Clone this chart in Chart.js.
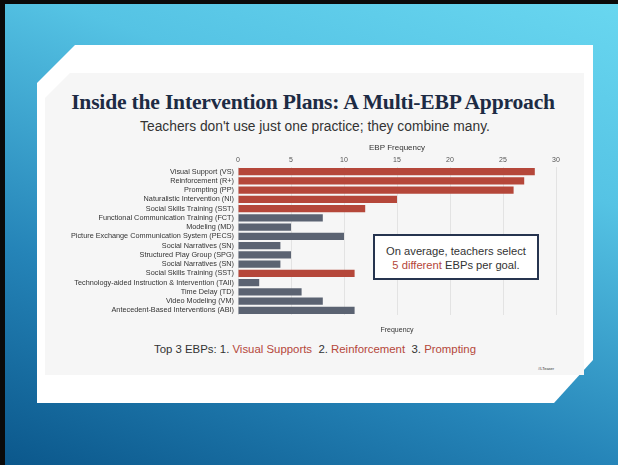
<!DOCTYPE html>
<html>
<head>
<meta charset="utf-8">
<script src="https://cdn.jsdelivr.net/npm/chart.js@4"></script>
<style>
  html,body{margin:0;padding:0;}
  body{width:618px;height:465px;overflow:hidden;position:relative;
    background:linear-gradient(200deg,#69d7f0 0%,#55c3e4 30%,#2584b8 68%,#0b578b 100%);}
  #frameT{position:absolute;left:0;top:0;width:618px;height:4px;background:#0a0a0a;}
  #frameL{position:absolute;left:0;top:0;width:5px;height:465px;background:#0a0a0a;}
  #card{position:absolute;left:37px;top:45px;width:556px;height:358px;background:#fff;
    clip-path:polygon(38px 0,556px 0,556px 315px,517px 358px,0 358px,0 38px);}
  #panel{position:absolute;left:45px;top:73px;width:539px;height:302px;background:#f6f6f6;
    clip-path:polygon(25px 0,539px 0,539px 302px,0 302px,0 25px);}
  .txt{position:absolute;white-space:nowrap;}
  #title{left:4px;width:618px;top:90px;text-align:center;font-family:"Liberation Serif",serif;
    font-weight:bold;font-size:21.6px;color:#1d2b44;letter-spacing:-0.2px;}
  #sub{left:6px;width:618px;top:119px;text-align:center;font-family:"Liberation Sans",Arial,sans-serif;
    font-size:13.8px;color:#333;}
  #chartWrap{position:absolute;left:45px;top:135px;width:540px;height:205px;}
  #note{position:absolute;left:373px;top:234px;width:162px;height:42px;border:2px solid #26344f;background:#fff;
    font-family:"Liberation Sans",Arial,sans-serif;font-size:11.2px;color:#333;text-align:center;line-height:14px;
    box-sizing:content-box;}
  .red{color:#b5473a;}
  #bottom{left:6px;width:618px;top:343px;text-align:center;font-family:"Liberation Sans",Arial,sans-serif;font-size:11.4px;color:#333;}
  #tag{left:538px;top:366px;font-family:"Liberation Sans",Arial,sans-serif;font-size:4px;color:#333;}
</style>
</head>
<body>
<div id="frameT"></div><div id="frameL"></div>
<div id="card"></div>
<div id="panel"></div>
<div class="txt" id="title">Inside the Intervention Plans: A Multi-EBP Approach</div>
<div class="txt" id="sub">Teachers don't use just one practice; they combine many.</div>
<div id="chartWrap"><canvas id="c" width="540" height="205"></canvas></div>
<div id="note"><div style="height:8px"></div><div>On average, teachers select</div><div><span class="red">5 different</span> EBPs per goal.</div></div>
<div class="txt" id="bottom">Top 3 EBPs: 1. <span class="red">Visual Supports</span>&nbsp; 2. <span class="red">Reinforcement</span>&nbsp; 3. <span class="red">Prompting</span></div>
<div class="txt" id="tag">#LTeaser</div>
<script>
const categories = [
  "Visual Support (VS)",
  "Reinforcement (R+)",
  "Prompting (PP)",
  "Naturalistic Intervention (NI)",
  "Social Skills Training (SST)",
  "Functional Communication Training (FCT)",
  "Modeling (MD)",
  "Picture Exchange Communication System (PECS)",
  "Social Narratives (SN)",
  "Structured Play Group (SPG)",
  "Social Narratives (SN)",
  "Social Skills Training (SST)",
  "Technology-aided Instruction & Intervention (TAII)",
  "Time Delay (TD)",
  "Video Modeling (VM)",
  "Antecedent-Based Interventions (ABI)"
];
const frequency = [28, 27, 26, 15, 12, 8, 5, 10, 4, 5, 4, 11, 2, 6, 8, 11];
const emphasized = [true, true, true, true, true, false, false, false, false, false, false, true, false, false, false, false];
const xTicks = [0, 5, 10, 15, 20, 25, 30];

const RED = "#b5473a", GREY = "#5b6372";
new Chart(document.getElementById("c"), {
  type: "bar",
  data: {
    labels: categories,
    datasets: [{
      data: frequency,
      backgroundColor: emphasized.map(e => e ? RED : GREY),
      categoryPercentage: 0.78,
      barPercentage: 1.0,
      borderWidth: 0
    }]
  },
  options: {
    indexAxis: "y",
    responsive: false,
    animation: false,
    layout: { padding: { left: 0, right: 29, top: 0, bottom: 6 } },
    plugins: { legend: { display: false }, tooltip: { enabled: false } },
    scales: {
      x: {
        position: "top",
        min: xTicks[0], max: xTicks[xTicks.length - 1],
        afterBuildTicks: s => { s.ticks = xTicks.map(v => ({ value: v })); },
        afterFit: s => { s.height = 32; },
        grid: { color: "#e3e3e3", lineWidth: 1, drawTicks: false },
        border: { display: false },
        ticks: { padding: 3, color: "#555", font: { family: "Liberation Sans", size: 7 } },
        title: { display: true, text: "EBP Frequency", color: "#333", padding: { top: 8, bottom: 0 },
          font: { family: "Liberation Sans", size: 8 } }
      },
      x2: {
        position: "bottom",
        min: 0, max: 30,
        afterFit: s => { s.height = 19; },
        grid: { display: false, drawTicks: false },
        border: { display: false },
        ticks: { display: false },
        title: { display: true, text: "Frequency", color: "#333", padding: { top: 3, bottom: 0 },
          font: { family: "Liberation Sans", size: 7 } }
      },
      y: {
        afterFit: s => { s.width = 193; },
        grid: { display: false, drawTicks: false },
        border: { display: false },
        ticks: { padding: 4, color: "#333", autoSkip: false, font: { family: "Liberation Sans", size: 7.3 } }
      }
    }
  }
});
</script>
</body>
</html>
